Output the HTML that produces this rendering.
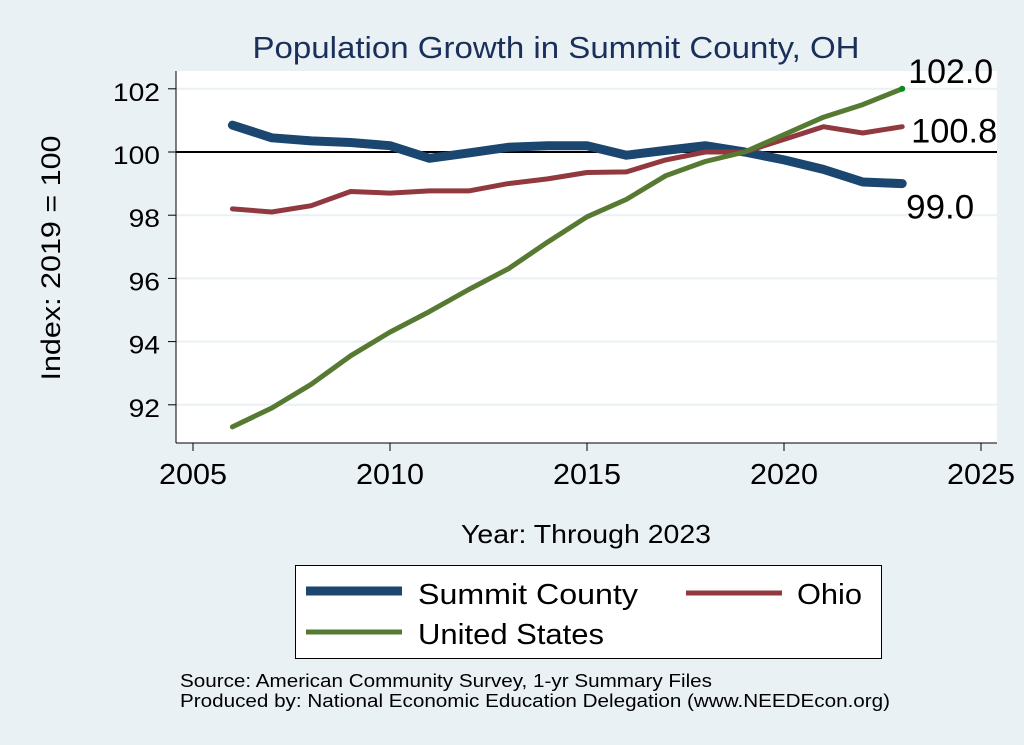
<!DOCTYPE html>
<html><head><meta charset="utf-8"><style>
html,body{margin:0;padding:0;background:#eaf1f5;}
svg{display:block;font-family:"Liberation Sans",Arial,sans-serif;}
</style></head><body>
<svg width="1024" height="745" viewBox="0 0 1024 745">
<rect x="0" y="0" width="1024" height="745" fill="#eaf1f5"/>
<text x="556" y="58" text-anchor="middle" font-size="31" textLength="607" lengthAdjust="spacingAndGlyphs" fill="#1a2f5a">Population Growth in Summit County, OH</text>
<rect x="176" y="71" width="821" height="372" fill="#fff"/>
<g id="grid"></g>
<g id="axes"></g>
<g id="series"></g>
<text x="586" y="543" text-anchor="middle" font-size="26" textLength="250" lengthAdjust="spacingAndGlyphs" fill="#000">Year: Through 2023</text>
<text transform="translate(60,258) rotate(-90)" text-anchor="middle" font-size="27" textLength="245" lengthAdjust="spacingAndGlyphs" fill="#000">Index: 2019 = 100</text>
<g>
<rect x="295.5" y="565.5" width="586" height="93" fill="#fff" stroke="#000" stroke-width="1"/>
<g>
<line x1="306" y1="591" x2="402" y2="591" stroke="#1b466f" stroke-width="9"/>
<text x="418" y="604" font-size="29" textLength="220" lengthAdjust="spacingAndGlyphs">Summit  County</text></g>
<g>
<line x1="686" y1="593" x2="782" y2="593" stroke="#923940" stroke-width="5"/>
<text x="797" y="604" font-size="29" textLength="65" lengthAdjust="spacingAndGlyphs">Ohio</text></g>
<g>
<line x1="306" y1="632" x2="402" y2="632" stroke="#577a33" stroke-width="5"/>
<text x="418" y="644" font-size="29" textLength="186" lengthAdjust="spacingAndGlyphs">United States</text></g>
</g>
<text x="180" y="687" font-size="18" textLength="532" lengthAdjust="spacingAndGlyphs">Source: American Community Survey, 1-yr Summary Files</text>
<text x="180" y="707" font-size="18" textLength="710" lengthAdjust="spacingAndGlyphs">Produced by: National Economic Education Delegation (www.NEEDEcon.org)</text>
</svg>
<script>
const years=[2006,2007,2008,2009,2010,2011,2012,2013,2014,2015,2016,2017,2018,2019,2020,2021,2022,2023];
const summit=[100.85,100.45,100.35,100.3,100.2,99.8,99.97,100.15,100.2,100.2,99.9,100.05,100.2,100,99.75,99.45,99.05,99.0];
const ohio=[98.2,98.1,98.3,98.75,98.7,98.77,98.77,99.0,99.15,99.35,99.37,99.75,100,100,100.4,100.8,100.6,100.8];
const us=[91.3,91.9,92.65,93.55,94.3,94.95,95.65,96.3,97.15,97.95,98.5,99.25,99.7,100,100.55,101.1,101.5,102.0];
const xTicks=[2005,2010,2015,2020,2025];
const yTicks=[92,94,96,98,100,102];
const endLabels=["99.0","100.8","102.0"];
const NS="http://www.w3.org/2000/svg";
function X(v){return 193+(v-2005)*(981-193)/20;}
function Y(v){return 152-(v-100)*31.6;}
function mk(tag,attrs,parent){const e=document.createElementNS(NS,tag);for(const k in attrs)e.setAttribute(k,attrs[k]);parent.appendChild(e);return e;}
const grid=document.getElementById('grid'),axes=document.getElementById('axes'),series=document.getElementById('series');
yTicks.forEach(t=>{
 const g=mk('line',{x1:176,x2:997,y1:Y(t),y2:Y(t),stroke:t===100?'#000':'#eaf1f5','stroke-width':2},grid);
 
 
 const tk=mk('line',{x1:168,x2:176,y1:Y(t),y2:Y(t),stroke:'#000','stroke-width':1},axes);
 
 
 const s=String(t);
 const tl=mk('text',{x:160,y:Y(t)+12,'text-anchor':'end','font-size':25,textLength:s.length*15.7,lengthAdjust:'spacingAndGlyphs'},axes);
 tl.textContent=s;
 
 
});
const ya=mk('line',{x1:176,x2:176,y1:71,y2:443,stroke:'#000','stroke-width':1},axes);


const xa=mk('line',{x1:176,x2:997,y1:443,y2:443,stroke:'#000','stroke-width':1},axes);


xTicks.forEach(t=>{
 const tk=mk('line',{x1:X(t),x2:X(t),y1:443,y2:451,stroke:'#000','stroke-width':1},axes);
 
 
 const tl=mk('text',{x:X(t),y:484,'text-anchor':'middle','font-size':29,textLength:68,lengthAdjust:'spacingAndGlyphs'},axes);
 tl.textContent=t;
 
 
});
function line(vals,color,w,name){
 const d=vals.map((v,i)=>(i?'L':'M')+X(years[i]).toFixed(1)+','+Y(v).toFixed(1)).join('');
 const p=mk('path',{d:d,fill:'none',stroke:color,'stroke-width':w,'stroke-linejoin':'round','stroke-linecap':'round'},series);
 
 
}
line(summit,'#1b466f',9,'line-summit-county');
line(ohio,'#923940',5,'line-ohio');
line(us,'#577a33',5,'line-united-states');
const last=years.length-1;
const dot=mk('circle',{cx:X(years[last]),cy:Y(us[last]),r:3,fill:'#0a8a1a'},series);


const l1=mk('text',{x:X(years[last])+4,y:Y(summit[last])+35,'font-size':34,textLength:68,lengthAdjust:'spacingAndGlyphs'},series);
l1.textContent=endLabels[0];


const l2=mk('text',{x:X(years[last])+9,y:Y(ohio[last])+16,'font-size':34,textLength:86,lengthAdjust:'spacingAndGlyphs'},series);
l2.textContent=endLabels[1];


const l3=mk('text',{x:X(years[last])+6,y:Y(us[last])-6,'font-size':34,textLength:85,lengthAdjust:'spacingAndGlyphs'},series);
l3.textContent=endLabels[2];


</script>
</body></html>
